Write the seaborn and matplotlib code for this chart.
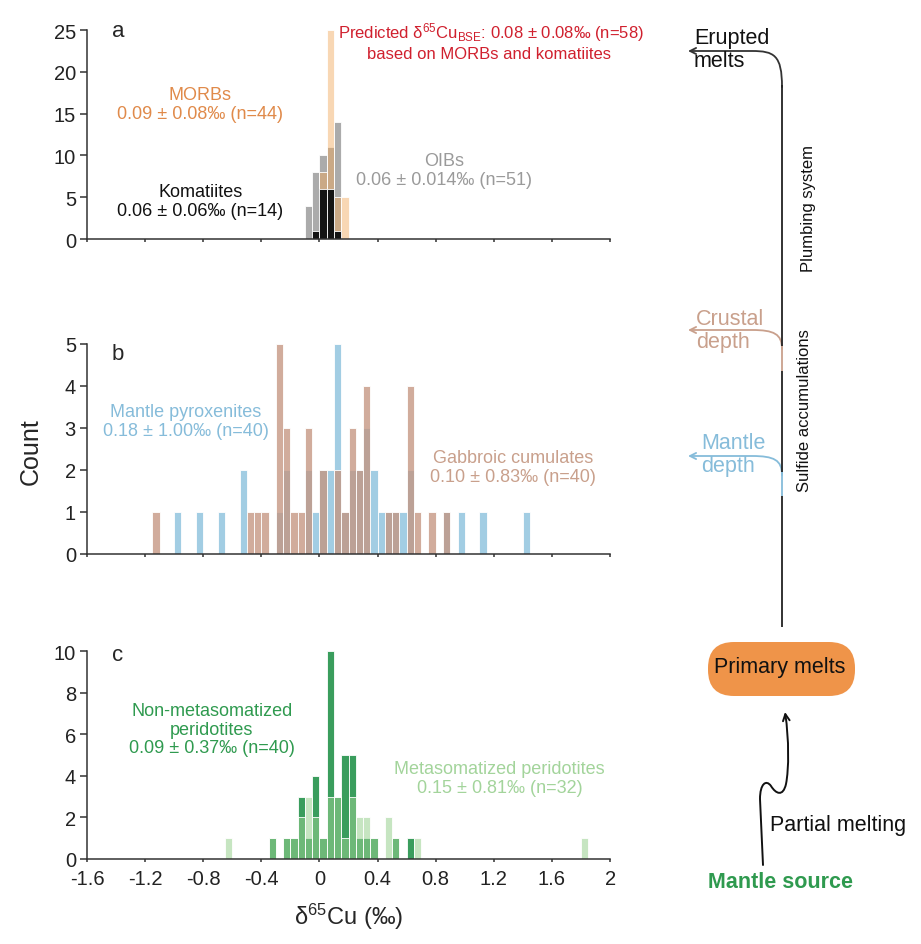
import numpy as np
import pandas as pd
import matplotlib
matplotlib.use('Agg')
import matplotlib.pyplot as plt
import seaborn as sns
from matplotlib.path import Path
from matplotlib.patches import FancyArrowPatch, FancyBboxPatch

# ── Data: histogram bin centres (‰) and counts ──────────────────────────────
# (a) volcanic rocks
oib_x = [-0.075, -0.025, 0.025, 0.075, 0.125]
oib_n = [4, 8, 10, 11, 14]
morb_x = [0.025, 0.075, 0.125, 0.175]
morb_n = [8, 25, 5, 5]
kom_x = [-0.025, 0.025, 0.075, 0.125]
kom_n = [1, 6, 6, 1]

# (b) pyroxenites and cumulates
pyx_x = [-0.975, -0.825, -0.675, -0.525, -0.275, -0.225, -0.075, -0.025,
         0.025, 0.075, 0.125, 0.175, 0.225, 0.275, 0.325, 0.375, 0.425,
         0.475, 0.525, 0.575, 0.625, 0.875, 0.975, 1.125, 1.425]
pyx_n = [1, 1, 1, 2, 1, 2, 2, 1, 2, 2, 5, 1, 2, 2, 3, 2, 1, 1, 1, 1, 2, 1,
         1, 1, 1]
gab_x = [-1.125, -0.475, -0.425, -0.375, -0.275, -0.225, -0.175, -0.125,
         -0.075, 0.025, 0.125, 0.175, 0.225, 0.275, 0.325, 0.475, 0.525,
         0.625, 0.675, 0.775, 0.875]
gab_n = [1, 1, 1, 1, 5, 3, 1, 1, 3, 2, 2, 1, 3, 2, 4, 1, 1, 4, 1, 1, 1]

# (c) peridotites
nonmet_x = [-0.325, -0.225, -0.175, -0.125, -0.075, -0.025, 0.025, 0.075,
            0.125, 0.175, 0.225, 0.275, 0.325, 0.375, 0.525, 0.625]
nonmet_n = [1, 1, 1, 3, 1, 4, 1, 10, 3, 5, 5, 1, 1, 1, 1, 1]
met_x = [-0.625, -0.325, -0.225, -0.175, -0.125, -0.075, -0.025, 0.025,
         0.075, 0.125, 0.175, 0.225, 0.275, 0.325, 0.375, 0.475, 0.525,
         0.675, 1.825]
met_n = [1, 1, 1, 1, 2, 3, 2, 1, 3, 3, 1, 3, 2, 2, 1, 2, 1, 1, 1]

x_ticks = [-1.6, -1.2, -0.8, -0.4, 0, 0.4, 0.8, 1.2, 1.6, 2]
x_tick_labels = ['-1.6', '-1.2', '-0.8', '-0.4', '0', '0.4', '0.8', '1.2',
                 '1.6', '2']
edges = [round(v, 3) for v in np.arange(-1.6, 2.0 + 1e-9, 0.05)]

# ── Style ───────────────────────────────────────────────────────────────────
sns.set_theme(style='ticks')
plt.rcParams['font.family'] = ['Liberation Sans', 'DejaVu Sans']
plt.rcParams['mathtext.fontset'] = 'custom'
plt.rcParams['mathtext.rm'] = 'Liberation Sans'
plt.rcParams['mathtext.default'] = 'regular'

C_OIB, C_MORB, C_KOM = '#ababab', '#f0a759', '#141414'
C_PYX, C_GAB = '#92c5de', '#c49581'
C_NONMET, C_MET = '#3a9d5d', '#98d08f'
T_MORB, T_OIB, T_RED = '#e08a4a', '#9a9a9a', '#d0202e'
T_PYX, T_GAB = '#86bcda', '#c9a08c'
T_NONMET, T_MET = '#2f9a4f', '#a3d49b'

fig = plt.figure(figsize=(9.21, 9.45), dpi=100)
ax_a = fig.add_axes([0.0945, 0.746, 0.5679, 0.221])
ax_b = fig.add_axes([0.0945, 0.413, 0.5679, 0.222])
ax_c = fig.add_axes([0.0945, 0.090, 0.5679, 0.220])


def hist(ax, xs, ns, color, alpha):
    df = pd.DataFrame({'value': xs, 'count': ns})
    sns.histplot(data=df, x='value', weights='count', bins=edges,
                 color=color, alpha=alpha, edgecolor='white', linewidth=0.6,
                 ax=ax)


# (a)
hist(ax_a, oib_x, oib_n, C_OIB, 1)
hist(ax_a, morb_x, morb_n, C_MORB, 0.45)
hist(ax_a, kom_x, kom_n, C_KOM, 1)
ax_a.set_ylim(0, 25)
ax_a.set_yticks([0, 5, 10, 15, 20, 25])

# (b)
hist(ax_b, pyx_x, pyx_n, C_PYX, 0.85)
hist(ax_b, gab_x, gab_n, C_GAB, 0.78)
ax_b.set_ylim(0, 5)
ax_b.set_yticks([0, 1, 2, 3, 4, 5])

# (c)
hist(ax_c, nonmet_x, nonmet_n, C_NONMET, 1)
hist(ax_c, met_x, met_n, C_MET, 0.55)
ax_c.set_ylim(0, 10)
ax_c.set_yticks([0, 2, 4, 6, 8, 10])

for ax in (ax_a, ax_b, ax_c):
    ax.set_xlim(-1.6, 2)
    ax.set_xticks(x_ticks)
    ax.set_ylabel('')
    ax.set_xlabel('')
    sns.despine(ax=ax)
    for s in ('left', 'bottom'):
        ax.spines[s].set_color('#333333')
        ax.spines[s].set_linewidth(1.1)
    ax.tick_params(axis='y', labelsize=14.5, length=5, width=1.1,
                   color='#333333', labelcolor='#222222', pad=3)
    ax.tick_params(axis='x', labelsize=14.5, length=2.5, width=1.1,
                   color='#333333', labelcolor='#222222', pad=5)
ax_a.set_xticklabels([])
ax_b.set_xticklabels([])
ax_c.set_xticklabels(x_tick_labels)
ax_c.set_xlabel(r'$\delta^{65}$Cu (‰)', fontsize=17, labelpad=9)

# annotations
txt = dict(ha='center', va='center', fontsize=13, linespacing=1.15)
ax_a.text(-1.43, 25.0, 'a', fontsize=16, ha='left', va='center')
ax_a.text(-0.82, 16.2, 'MORBs\n0.09 ± 0.08‰ (n=44)', color=T_MORB, **txt)
ax_a.text(-0.82, 4.5, 'Komatiites\n0.06 ± 0.06‰ (n=14)', color='#111111', **txt)
ax_a.text(0.86, 8.3, 'OIBs\n0.06 ± 0.014‰ (n=51)', color=T_OIB, **txt)
ax_a.text(1.18, 24.8, r'Predicted $\delta^{65}$Cu$_{BSE}$: 0.08 ± 0.08‰ (n=58)',
          color=T_RED, ha='center', va='center', fontsize=12, clip_on=False)
ax_a.text(1.17, 22.2, 'based on MORBs and komatiites', color=T_RED,
          ha='center', va='center', fontsize=12)

ax_b.text(-1.43, 4.76, 'b', fontsize=16, ha='left', va='center')
ax_b.text(-0.92, 3.16, 'Mantle pyroxenites\n0.18 ± 1.00‰ (n=40)', color=T_PYX, **txt)
ax_b.text(1.33, 2.07, 'Gabbroic cumulates\n0.10 ± 0.83‰ (n=40)', color=T_GAB, **txt)

ax_c.text(-1.43, 9.85, 'c', fontsize=16, ha='left', va='center')
ax_c.text(-0.74, 6.25, 'Non-metasomatized\nperidotites\n0.09 ± 0.37‰ (n=40)',
          color=T_NONMET, **txt)
ax_c.text(1.24, 3.9, 'Metasomatized peridotites\n0.15 ± 0.81‰ (n=32)',
          color=T_MET, **txt)

fig.text(0.033, 1 - 452 / 945, 'Count', rotation=90, fontsize=18,
         ha='center', va='center')

# ── Right-hand schematic (pixel coordinates) ────────────────────────────────
ov = fig.add_axes([0, 0, 1, 1])
ov.set_xlim(0, 921)
ov.set_ylim(945, 0)
ov.axis('off')
ov.patch.set_alpha(0)

xm = 782
for y0, y1, col in [(628, 497, '#222222'), (497, 473, T_PYX),
                    (473, 372, '#222222'), (372, 347, T_GAB),
                    (347, 86, '#222222')]:
    ov.plot([xm, xm], [y0, y1], color=col, lw=1.3, solid_capstyle='butt')


def branch(y_start, y_end, col):
    verts = [(xm, y_start), (xm, y_end + 4), (xm - 8, y_end), (xm - 30, y_end),
             (688, y_end)]
    codes = [Path.MOVETO, Path.CURVE4, Path.CURVE4, Path.CURVE4, Path.LINETO]
    ov.add_patch(FancyArrowPatch(path=Path(verts, codes), arrowstyle='->',
                                 mutation_scale=11, lw=1.3, color=col,
                                 shrinkA=0, shrinkB=0, transform=ov.transData))


branch(88, 52, '#333333')
branch(350, 331, T_GAB)
branch(476, 457, T_PYX)

sfont = dict(fontsize=15.5, ha='left', va='center', linespacing=1.08)
ov.text(694, 50, 'Erupted\nmelts', color='#111111', **sfont)
ov.text(696, 331, 'Crustal\ndepth', color=T_GAB, **sfont)
ov.text(701, 455, 'Mantle\ndepth', color=T_PYX, **sfont)
ov.text(808, 208, 'Plumbing system', rotation=90, fontsize=12,
        ha='center', va='center', color='#111111')
ov.text(804, 411, 'Sulfide accumulations', rotation=90, fontsize=12,
        ha='center', va='center', color='#111111')

ov.add_patch(FancyBboxPatch((708, 643), 147, 54,
                            boxstyle='round,pad=0,rounding_size=26',
                            fc='#ef9449', ec='none'))
ov.text(780, 668, 'Primary melts', fontsize=15.5, ha='center', va='center',
        color='#111111')

wv = [(763, 866), (760, 800), (760, 785), (766, 780), (771, 787),
      (776, 795), (783, 798), (786, 785), (789, 770), (789, 740), (785, 713)]
wc = [Path.MOVETO, Path.LINETO, Path.CURVE4, Path.CURVE4, Path.CURVE4,
      Path.CURVE4, Path.CURVE4, Path.CURVE4, Path.CURVE4, Path.CURVE4,
      Path.CURVE4]
ov.add_patch(FancyArrowPatch(path=Path(wv, wc), arrowstyle='->',
                             mutation_scale=12, lw=1.4, color='#111111',
                             shrinkA=0, shrinkB=0, transform=ov.transData))
ov.text(770, 825, 'Partial melting', fontsize=15.5, ha='left', va='center',
        color='#111111')
ov.text(780, 882, 'Mantle source', fontsize=15.5, fontweight='bold',
        ha='center', va='center', color='#2f9a4f')

fig.savefig('out.png', dpi=100)
